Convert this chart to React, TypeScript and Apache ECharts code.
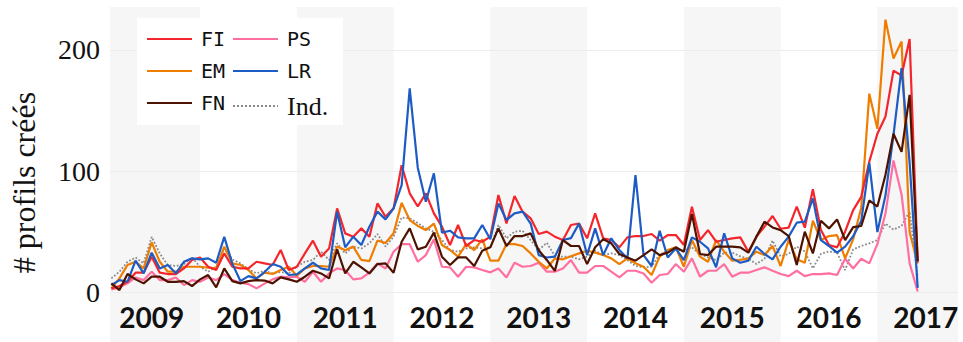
import React, { useEffect, useRef } from "react";
import * as echarts from "echarts";

const YEARS = ["2009", "2010", "2011", "2012", "2013", "2014", "2015", "2016", "2017"];
const Y_TICKS = [0, 100, 200];

// monthly values, Jan 2009 .. May 2017
const FI = [3.6, 5.5, 9, 16.5, 16.5, 29.7, 16.5, 15.4, 15.4, 20, 27, 29, 21.4, 18.7, 32.4, 21.4, 20, 20, 25.5, 24.2,
  22.8, 35.2, 18.7, 21.4, 32.4, 42.9, 29.7, 36.5, 69.5, 48.9, 46.2, 53, 46.2, 73.6, 62.6, 69.5, 105, 81.9, 71, 81.9,
  65.4, 54.4, 39.3, 55.8, 38.5, 43.4, 42, 46.2, 80.5, 57.1, 79.7, 66.8, 61.3, 48.4, 50.3, 46.2, 43.4, 55.8, 57, 44.8,
  65.4, 44.8, 43.4, 37.4, 45.6, 46.7, 46.7, 48.4, 42.9, 47.5, 47.5, 39.3, 70.9, 43.4, 51.6, 42, 43.4, 44.8, 45.6, 33.8,
  46.2, 54.4, 63.2, 52.7, 53.6, 70.9, 53.6, 85.2, 51.6, 39.3, 37.4, 50.3, 68, 79, 108, 131, 145, 183, 179, 209, 25];
const EM = [3.6, 11.8, 22.8, 25.5, 20, 41.5, 25.5, 17.3, 17.3, 21.4, 21.4, 21.4, 20.6, 20, 37.9, 24.2, 22.8, 18.7, 11.8, 16.5,
  15.4, 18.7, 21.4, 14, 20, 22, 22, 21.4, 38, 35, 38, 27, 26, 43, 41, 49, 74, 59.9, 55, 51.6,
  57, 39.3, 35.2, 29.7, 40, 35.2, 44, 26.4, 26.4, 40, 40, 38.5, 32.4, 25.5, 20, 28.3, 27.5, 30, 32.4, 34.6,
  33, 31, 28.3, 23.6, 28.3, 24.2, 21.4, 14.6, 29.7, 35.2, 37.4, 21.4, 43.4, 29.7, 25.5, 43.4, 33.8, 26.4, 27, 28.3,
  33.8, 31, 38.5, 22, 43.4, 27.5, 24.7, 59.3, 43.4, 46.7, 47.5, 28.3, 44, 70, 164, 135, 225, 193, 207, 50, 24];
const FN = [7.7, 2.2, 15.4, 11, 7.7, 13.2, 13.2, 9, 9, 9.6, 5.5, 11, 14.6, 4.4, 20, 9.6, 7.7, 9.6, 10.4, 10,
  7.7, 12.6, 11, 9, 13.2, 18.1, 15.9, 11.8, 35.7, 15.9, 25.5, 20.9, 15.9, 23.6, 24.2, 16.5, 42, 53, 35.7, 37.9,
  49.5, 29.7, 22.8, 29.1, 29.1, 22, 34.6, 37.4, 53, 38.5, 46.7, 46.7, 48.9, 35, 27, 18, 43.4, 38.5, 38.5, 23.6,
  37.4, 44, 40.7, 31.9, 29.1, 26.4, 31, 35.7, 31, 33, 37.4, 33.8, 64.8, 31.9, 31, 37.9, 38, 37.9, 37.4, 33,
  46.2, 58.5, 53.8, 51.6, 46.7, 22.8, 50.3, 32.4, 59.3, 53, 60.4, 43.4, 54, 55, 76, 71, 97, 131, 116, 163, 26];
const PS = [2.7, 4.4, 7.7, 12.6, 10.4, 17.3, 10.4, 10.4, 12.6, 6.3, 10.4, 9, 12.6, 10.4, 15.4, 10.4, 8.2, 7.1, 3.6, 7.5,
  11, 13.2, 12.6, 13.2, 9, 17.3, 9, 15.9, 20, 18.7, 11, 11.8, 16.5, 24.2, 20, 33.8, 40, 40, 25.5, 31,
  44, 21.4, 20.9, 13.2, 21.4, 20.9, 18.7, 16.8, 20, 12.6, 24.7, 21.4, 22, 24.7, 17.3, 17.3, 20, 26.9, 16.5, 16.5,
  22, 22, 17.3, 12.6, 18.1, 18.1, 15.9, 8.2, 14.6, 15.4, 23.6, 17.3, 28.3, 13.2, 18.1, 18.1, 23.6, 13.2, 16.5, 16.5,
  18.7, 20.9, 18.1, 15.4, 13.7, 18.1, 13.7, 15.4, 15.4, 15.9, 14.6, 28, 20, 28, 24.2, 40, 65, 109, 81, 24.2, 1];
const LR = [6.3, 10.4, 9, 26.4, 16, 33, 20, 22.8, 16, 25.5, 28.3, 27.5, 28.3, 24.7, 46, 24, 9.6, 13.7, 11.8, 17,
  23.6, 21.4, 14.6, 15.1, 20, 24.7, 20, 18.7, 66.8, 37.4, 46.2, 39.3, 54.4, 66.8, 60.4, 69.5, 88.7, 168.4, 103, 75,
  98.4, 49.5, 51.1, 45.6, 44.8, 44.8, 55.8, 44, 73.6, 59.9, 65.4, 66.8, 57, 31, 29, 29.7, 43.4, 45, 57, 31,
  53, 31, 44.8, 35.2, 28.3, 97, 31, 22, 51.1, 29.1, 36.5, 26.9, 45.6, 42, 36.5, 20.9, 49, 28.3, 24.7, 26.4,
  37.9, 31.9, 27.5, 37.9, 46.2, 57.7, 58.5, 77.7, 43.4, 38.5, 33, 38, 46.5, 59, 107, 50, 80, 130, 185, 107, 4];
const IND = [11.8, 17.3, 25.5, 29, 24.2, 46, 32.4, 22.8, 22, 23.6, 29, 21.4, 17.3, 21.4, 36.5, 27.5, 24.2, 19.2, 16, 18,
  16, 17, 16, 21.4, 25.5, 27, 33.8, 27, 40.7, 32.4, 38, 36.5, 40.7, 48.4, 38, 46.2, 62, 61.3, 57.5, 53,
  50.3, 43.4, 35.2, 33.8, 36.5, 37.4, 36.5, 37.4, 55.8, 44.8, 50.3, 51, 43.4, 35.2, 41.2, 30.2, 29.7, 29.7, 27.5, 29.7,
  34.6, 31, 32.4, 31, 26.9, 22, 20.9, 21.4, 31.9, 33, 35.7, 34.6, 37.4, 31.9, 29.1, 26.9, 33, 33, 30, 28,
  23.6, 28, 43, 30, 32, 38, 34, 20, 32, 34, 33, 18.7, 35.7, 38.5, 40.7, 43.4, 57, 52, 55, 67, 13];

const SERIES = [
  { name: "Ind.", data: IND, color: "#8a8a8a", type: "dotted", width: 1.8 },
  { name: "PS", data: PS, color: "#ff6f9f", type: "solid", width: 2.2 },
  { name: "EM", data: EM, color: "#ef7d00", type: "solid", width: 2.2 },
  { name: "FI", data: FI, color: "#f5262b", type: "solid", width: 2.2 },
  { name: "LR", data: LR, color: "#1d5cc4", type: "solid", width: 2.2 },
  { name: "FN", data: FN, color: "#4d1300", type: "solid", width: 2.2 },
];

const SERIF = "'Liberation Serif', serif";
const MONO = "'DejaVu Sans Mono', monospace";

export default function App() {
  const ref = useRef<HTMLDivElement>(null);
  useEffect(() => {
    const chart = echarts.init(ref.current!, null, { renderer: "svg" });
    const bands = YEARS.map((_, k) => k).filter((k) => k % 2 === 0).map((k) => [{ xAxis: 12 * k }, { xAxis: 12 * k + 12 }]);
    const rich = {
      m: { fontFamily: MONO, fontSize: 20, lineHeight: 20, color: "#111" },
      s: { fontFamily: SERIF, fontSize: 26, lineHeight: 20, color: "#111" },
    };
    const legendBase = {
      orient: "vertical",
      top: 29,
      itemWidth: 45,
      itemHeight: 14,
      itemGap: 12,
      padding: 0,
      z: 6,
      itemStyle: { color: "rgba(0,0,0,0)", borderWidth: 0, opacity: 0 },
      formatter: (n: string) => (n === "Ind." ? `{s|${n}}` : `{m|${n}}`),
      textStyle: { rich, padding: [0, 0, 0, 4] },
    };
    chart.setOption({
      animation: false,
      backgroundColor: "#ffffff",
      grid: { left: 110, right: 5, top: 7, bottom: 0, containLabel: false },
      xAxis: {
        type: "value",
        min: 0.83,
        max: 106,
        z: 3,
        axisLine: { show: false },
        axisTick: { show: false },
        splitLine: { show: false },
        axisLabel: {
          inside: true,
          interval: 0,
          hideOverlap: false,
          margin: 10,
          customValues: YEARS.map((_, k) => 12 * k + 6),
          formatter: (v: number) => YEARS[Math.round((v - 6) / 12)],
          fontFamily: "Lato",
          fontWeight: 700,
          fontSize: 28,
          lineHeight: 30,
          color: "#111",
        },
      },
      yAxis: {
        type: "value",
        min: -40.6,
        max: 235.4,
        name: "# profils créés",
        nameLocation: "middle",
        nameGap: 70,
        nameTextStyle: { fontFamily: SERIF, fontSize: 32, color: "#111", padding: [0, 16, 0, 0] },
        axisLine: { show: false },
        axisTick: { show: false, customValues: Y_TICKS },
        axisLabel: { customValues: Y_TICKS, margin: 10, fontFamily: SERIF, fontSize: 28, color: "#111" },
        splitLine: { show: true, lineStyle: { color: "#ececec", width: 1 } },
      },
      legend: [
        { ...legendBase, left: 146, data: ["FI", "EM", "FN"] },
        { ...legendBase, left: 232, data: ["PS", "LR", "Ind."] },
      ],
      graphic: [
        { type: "rect", left: 137, top: 18, shape: { width: 206, height: 107 }, style: { fill: "#ffffff" }, z: 5 },
      ],
      series: [
        {
          type: "line",
          name: "bands",
          data: [],
          z: -2,
          silent: true,
          markArea: { silent: true, z: -2, itemStyle: { color: "#f6f6f6" }, data: bands },
        },
        ...SERIES.map((s) => ({
          type: "line",
          name: s.name,
          data: s.data.map((v, i) => [i + 1, v]),
          showSymbol: false,
          symbol: "none",
          color: s.color,
          lineStyle: { color: s.color, width: s.width, type: s.type },
          z: 2,
        })),
      ],
    });
    return () => chart.dispose();
  }, []);
  return <div ref={ref} style={{ position: "fixed", left: 0, top: 0, width: 963, height: 342 }} />;
}
